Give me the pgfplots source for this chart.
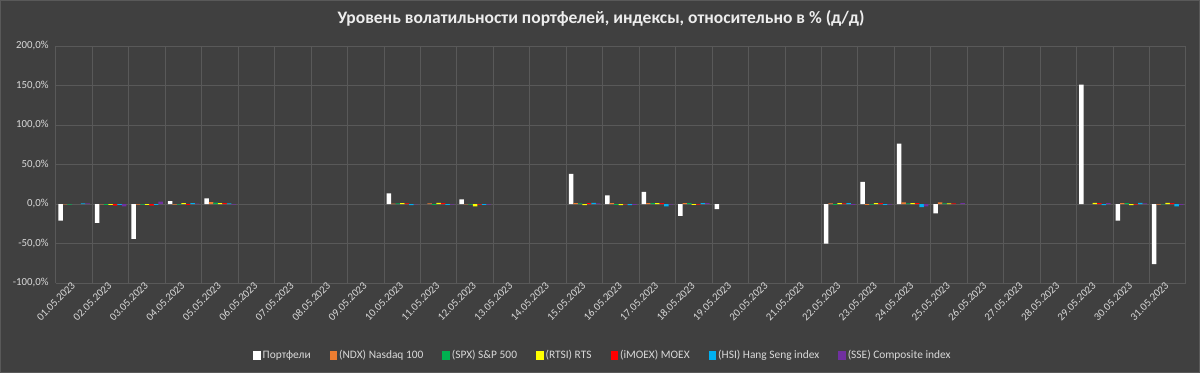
\documentclass[border=0pt]{standalone}
\usepackage{fontspec}
\setmainfont{Carlito}
\usepackage{pgfplots}
\usepackage{pgfplotstable}
\pgfplotsset{compat=1.18}
\definecolor{bg}{HTML}{404040}
\definecolor{gridc}{HTML}{595959}
\definecolor{txt}{HTML}{D9D9D9}
\definecolor{ttl}{HTML}{EDEDED}
\definecolor{cP}{HTML}{FFFFFF}
\definecolor{cN}{HTML}{ED7D31}
\definecolor{cS}{HTML}{00B050}
\definecolor{cR}{HTML}{FFFF00}
\definecolor{cM}{HTML}{FF0000}
\definecolor{cH}{HTML}{00B0F0}
\definecolor{cC}{HTML}{7030A0}

\pgfplotstableread{
x P NDX SPX RTS MOEX HSI SSE
0 -21 -0.6 -0.8 nan nan 0.8 0.9
1 -24 -0.6 -1.2 -1.0 -2.0 -1.2 -3.0
2 -44 -0.8 -0.9 -1.0 -2.0 -1.0 3.0
3 3.5 -0.9 -0.7 1.0 -1.2 1.0 0.5
4 7 2.5 1.8 1.2 1.0 0.9 -0.9
5 nan nan nan nan nan nan nan
6 nan nan nan nan nan nan nan
7 nan nan nan nan nan nan nan
8 nan nan nan nan nan nan nan
9 13.5 0.5 0.8 1.0 0.9 -1.3 -0.6
10 nan 0.9 -1.0 1.5 1.0 -1.0 -0.8
11 6 -0.4 -0.8 -3.0 -0.9 -1.0 -0.7
12 nan nan nan nan nan nan nan
13 nan nan nan nan nan nan nan
14 38 1.0 0.8 -1.5 1.0 1.4 0.9
15 11 1.0 -1.0 -1.5 -0.4 -1.5 -1.0
16 15.5 1.0 1.0 1.2 1.0 -3.0 -0.9
17 -15 1.0 1.0 -1.0 -0.8 1.0 1.0
18 -6.5 nan nan nan nan nan nan
19 nan nan nan nan nan nan nan
20 nan nan nan nan nan nan nan
21 -50 0.8 -1.0 1.0 0.8 1.0 -1.0
22 28 -1.0 -0.8 1.0 1.0 -1.0 -0.8
23 76.5 2.0 0.9 1.0 1.0 -4.0 -3.0
24 -12 2.0 0.8 0.9 0.9 nan 1.0
25 nan nan nan nan nan nan nan
26 nan nan nan nan nan nan nan
27 nan nan nan nan nan nan nan
28 151 nan nan 1.5 1.0 -1.5 1.0
29 -21 1.0 1.0 -1.5 -0.8 1.5 0.9
30 -76 -0.9 -0.5 1.5 1.0 -3.0 -1.0
}\data

\begin{document}
\begin{tikzpicture}
\useasboundingbox (-56pt,-90pt) rectangle (1144pt,283pt);
\fill[bg] (-56pt,-90pt) rectangle (1144pt,283pt);
\draw[gridc, line width=1pt] (-55.5pt,-89.5pt) rectangle (1143.5pt,282.5pt);
\begin{axis}[
  at={(0pt,0pt)}, anchor=south west,
  scale only axis, width=1130pt, height=237pt,
  ymin=-100, ymax=200, xmin=-0.5, xmax=30.5,
  ytick={-100,-50,...,200},
  yticklabels={{-100,0\%},{-50,0\%},{0,0\%},{50,0\%},{100,0\%},{150,0\%},{200,0\%}},
  xtick={0,...,30},
  xticklabels={01.05.2023,02.05.2023,03.05.2023,04.05.2023,05.05.2023,06.05.2023,07.05.2023,08.05.2023,09.05.2023,10.05.2023,11.05.2023,12.05.2023,13.05.2023,14.05.2023,15.05.2023,16.05.2023,17.05.2023,18.05.2023,19.05.2023,20.05.2023,21.05.2023,22.05.2023,23.05.2023,24.05.2023,25.05.2023,26.05.2023,27.05.2023,28.05.2023,29.05.2023,30.05.2023,31.05.2023},
  minor xtick={-0.5,0.5,...,30.5},
  xmajorgrids=false, xminorgrids=true, ymajorgrids=true,
  grid style={gridc, line width=1pt},
  minor grid style={gridc, line width=1pt},
  axis line style={draw=none},
  major tick length=0pt, minor tick length=0pt,
  tick label style={font=\fontsize{10.8}{13}\selectfont, text=txt},
  xticklabel style={rotate=45, anchor=east, inner sep=1pt},
  yticklabel style={xshift=-4pt},
  ybar=0pt, bar width=4.5pt,
  legend columns=7,
  legend style={at={(0.484,-0.304)}, anchor=center, draw=none, fill=none,
    text=txt, font=\fontsize{11.4}{13}\selectfont,
    /tikz/every even column/.append style={column sep=17pt},
    /tikz/every odd column/.append style={column sep=0pt}},
  legend image code/.code={\fill[#1] (0pt,-4.5pt) rectangle (7.5pt,4.5pt);},
]
\addplot[fill=cP, draw=none] table[x=x,y=P]{\data};
\addplot[fill=cN, draw=none] table[x=x,y=NDX]{\data};
\addplot[fill=cS, draw=none] table[x=x,y=SPX]{\data};
\addplot[fill=cR, draw=none] table[x=x,y=RTS]{\data};
\addplot[fill=cM, draw=none] table[x=x,y=MOEX]{\data};
\addplot[fill=cH, draw=none] table[x=x,y=HSI]{\data};
\addplot[fill=cC, draw=none] table[x=x,y=SSE]{\data};
\legend{Портфели,(NDX) Nasdaq 100,(SPX) S\&P 500,(RTSI) RTS,(iMOEX) MOEX,(HSI) Hang Seng index,(SSE) Composite index}
\end{axis}
\node[font=\fontsize{17.5}{20}\selectfont\bfseries, text=ttl] at (545pt,265pt) {Уровень волатильности портфелей, индексы, относительно в \% (д/д)};
\end{tikzpicture}
\end{document}
